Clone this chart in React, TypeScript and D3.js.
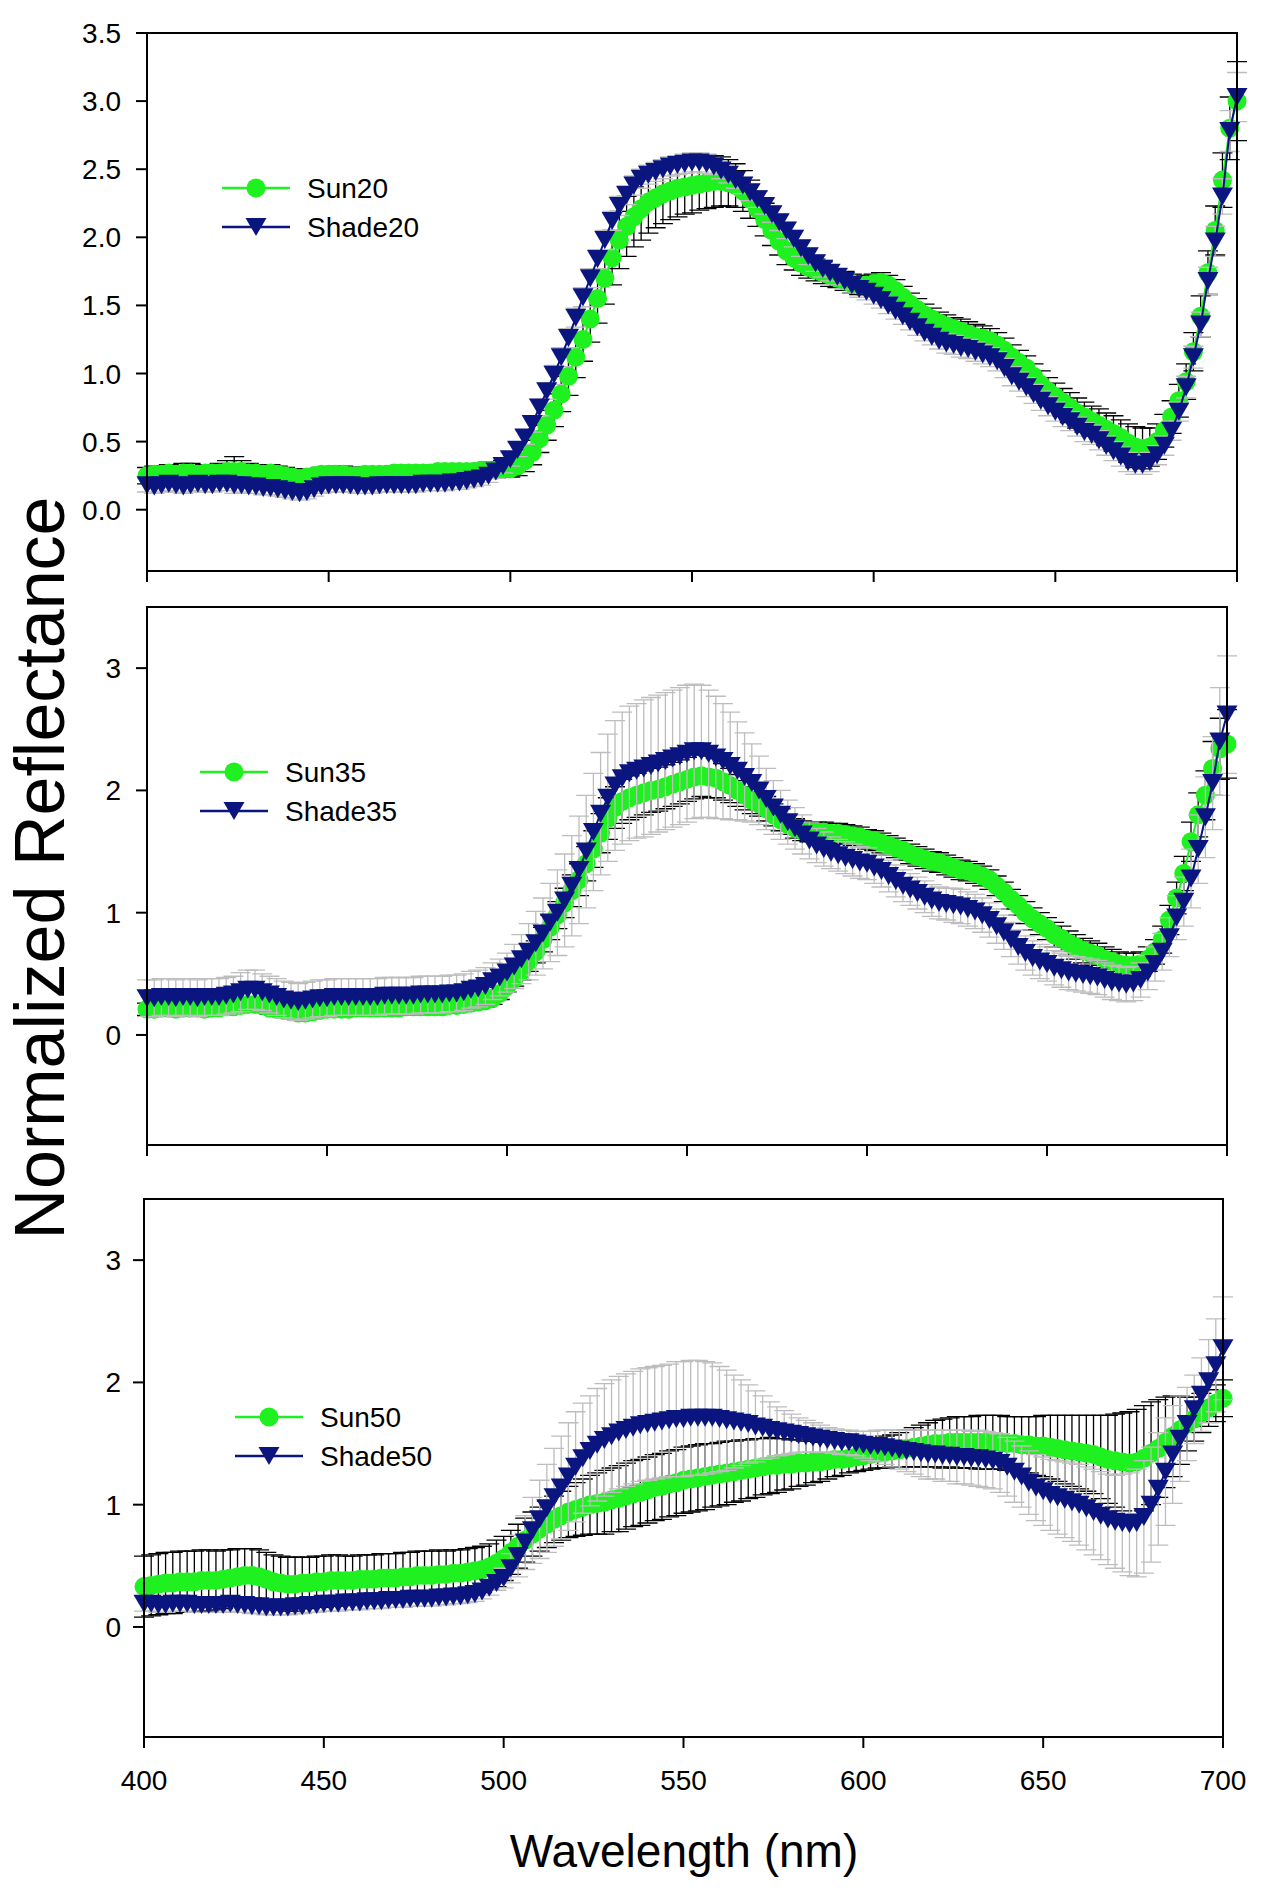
import { useEffect, useRef } from "react";
import * as d3 from "d3";

// sample grid of the spectra (nm)
const wavelengths = d3.range(400, 701, 2);

const xTicks = [400, 450, 500, 550, 600, 650, 700];
const yTicksTop = [0, 0.5, 1, 1.5, 2, 2.5, 3, 3.5];
const yTicksLower = [0, 1, 2, 3];

// normalized reflectance, in hundredths (400..700 nm, 2 nm step)
const sun20 = [
  25, 26, 26, 27, 26, 27, 27, 26, 27, 27,
  27, 28, 28, 28, 27, 27, 26, 27, 26, 25,
  24, 23, 24, 25, 26, 26, 26, 26, 25, 25,
  26, 26, 26, 26, 27, 27, 27, 27, 27, 27,
  28, 28, 28, 28, 28, 28, 29, 29, 29, 30,
  30, 32, 36, 42, 52, 62, 73, 85, 98, 112,
  125, 140, 155, 170, 185, 198, 208, 215, 221, 226,
  229, 232, 234, 236, 237, 238, 239, 240, 241, 241,
  240, 238, 234, 228, 221, 213, 205, 197, 190, 185,
  181, 178, 176, 174, 172, 170, 168, 166, 165, 165,
  166, 167, 165, 161, 156, 151, 147, 143, 140, 137,
  135, 133, 131, 129, 127, 126, 124, 121, 117, 112,
  108, 104, 98, 92, 87, 83, 79, 75, 71, 68,
  65, 62, 59, 56, 53, 49, 46, 45, 46, 50,
  58, 68, 80, 94, 116, 142, 174, 205, 242, 280,
  300,
];
const sun20Sd = [
  6, 6, 6, 6, 6, 7, 7, 6, 6, 6,
  7, 8, 11, 8, 7, 6, 6, 6, 6, 6,
  6, 6, 6, 5, 5, 5, 6, 6, 6, 6,
  5, 5, 5, 5, 5, 5, 5, 5, 5, 5,
  5, 5, 5, 5, 5, 5, 5, 6, 6, 6,
  6, 7, 8, 9, 10, 11, 12, 13, 14, 15,
  16, 17, 18, 19, 20, 21, 22, 22, 23, 23,
  22, 22, 21, 21, 20, 20, 19, 19, 19, 18,
  17, 16, 15, 14, 13, 12, 11, 10, 10, 9,
  9, 8, 8, 8, 8, 7, 7, 7, 7, 7,
  7, 7, 7, 8, 8, 8, 8, 8, 8, 8,
  8, 8, 9, 9, 9, 9, 9, 9, 9, 9,
  9, 9, 9, 10, 10, 10, 10, 11, 11, 11,
  11, 12, 12, 13, 13, 14, 15, 15, 14, 13,
  12, 12, 12, 13, 14, 15, 16, 18, 20, 23,
  29,
];
const shade20 = [
  18, 17, 18, 19, 18, 17, 18, 19, 18, 18,
  19, 19, 18, 18, 17, 17, 16, 16, 15, 14,
  13, 12, 13, 15, 17, 18, 18, 18, 18, 17,
  17, 17, 18, 18, 18, 18, 18, 18, 19, 19,
  19, 19, 20, 20, 21, 22, 23, 25, 28, 32,
  37, 44, 53, 63, 75, 87, 99, 112, 126, 141,
  156, 170, 184, 198, 212, 223, 231, 238, 243, 246,
  248, 250, 252, 253, 254, 255, 255, 254, 252, 249,
  246, 242, 238, 233, 228, 223, 217, 211, 205, 199,
  192, 186, 181, 177, 174, 171, 168, 165, 162, 160,
  157, 154, 150, 146, 142, 138, 134, 130, 127, 124,
  122, 121, 119, 118, 116, 114, 112, 109, 104, 98,
  94, 90, 85, 80, 76, 72, 68, 65, 61, 57,
  55, 51, 47, 43, 39, 35, 33, 33, 35, 40,
  47, 58, 72, 90, 112, 136, 168, 197, 230, 278,
  303,
];
const shade20Sd = [
  5, 5, 5, 5, 5, 5, 5, 5, 5, 5,
  5, 5, 6, 5, 5, 5, 5, 5, 5, 5,
  5, 5, 5, 5, 5, 5, 5, 5, 5, 5,
  5, 5, 5, 5, 5, 5, 5, 5, 5, 5,
  5, 5, 5, 5, 5, 5, 5, 5, 5, 5,
  5, 5, 5, 6, 6, 6, 7, 7, 7, 7,
  7, 7, 7, 7, 7, 7, 7, 7, 7, 7,
  7, 7, 7, 7, 7, 7, 7, 7, 6, 6,
  6, 6, 6, 6, 6, 6, 6, 6, 6, 6,
  6, 6, 6, 6, 6, 6, 6, 6, 6, 6,
  6, 6, 6, 6, 6, 6, 6, 6, 6, 6,
  7, 7, 7, 7, 7, 7, 7, 7, 7, 7,
  7, 7, 7, 7, 7, 7, 7, 7, 7, 7,
  7, 7, 7, 7, 7, 7, 7, 7, 7, 7,
  7, 7, 7, 8, 8, 9, 10, 11, 13, 15,
  18,
];

const sun35 = [
  21, 21, 22, 22, 21, 22, 22, 22, 21, 22,
  22, 23, 23, 24, 25, 25, 24, 22, 21, 20,
  19, 18, 18, 19, 20, 21, 21, 21, 21, 22,
  22, 22, 22, 22, 22, 22, 23, 23, 23, 23,
  23, 23, 24, 24, 25, 26, 27, 28, 30, 34,
  40, 46, 52, 60, 68, 78, 88, 98, 108, 118,
  127, 140, 152, 165, 177, 186, 191, 194, 196, 198,
  200, 201, 203, 205, 207, 209, 211, 212, 211, 210,
  207, 204, 200, 196, 192, 189, 185, 180, 176, 172,
  169, 167, 166, 166, 166, 165, 165, 164, 163, 162,
  160, 159, 157, 155, 153, 151, 148, 146, 144, 142,
  141, 139, 137, 135, 134, 132, 130, 127, 122, 117,
  111, 106, 100, 95, 91, 87, 82, 79, 75, 72,
  69, 67, 65, 62, 60, 58, 57, 57, 58, 62,
  68, 78, 94, 112, 132, 158, 180, 196, 218, 234,
  238,
];
const sun35Sd = [
  5, 5, 5, 5, 5, 5, 5, 5, 5, 5,
  5, 5, 5, 5, 5, 5, 5, 5, 5, 5,
  5, 5, 5, 5, 5, 5, 5, 5, 5, 5,
  5, 5, 5, 5, 5, 5, 5, 5, 5, 5,
  5, 5, 5, 5, 5, 5, 5, 5, 5, 5,
  5, 6, 7, 8, 9, 10, 10, 11, 12, 13,
  13, 14, 15, 16, 17, 17, 18, 18, 18, 18,
  18, 18, 18, 18, 18, 18, 18, 17, 17, 16,
  15, 14, 13, 12, 11, 10, 10, 9, 9, 8,
  8, 8, 8, 8, 8, 8, 8, 8, 8, 8,
  8, 8, 8, 8, 8, 8, 8, 8, 8, 8,
  8, 8, 8, 8, 8, 8, 8, 8, 8, 8,
  8, 8, 9, 9, 9, 9, 10, 10, 10, 10,
  10, 10, 10, 10, 10, 10, 10, 10, 10, 10,
  10, 11, 12, 13, 14, 16, 18, 20, 22, 25,
  28,
];
const shade35 = [
  30, 30, 31, 31, 30, 31, 31, 30, 31, 31,
  31, 32, 33, 35, 37, 37, 35, 33, 31, 29,
  28, 27, 28, 29, 30, 30, 31, 31, 31, 31,
  31, 31, 31, 32, 32, 32, 32, 32, 33, 33,
  33, 33, 34, 34, 35, 37, 38, 40, 44, 47,
  51, 56, 62, 68, 75, 83, 92, 100, 110, 122,
  135, 150, 166, 181, 194, 204, 210, 214, 216, 218,
  220, 222, 224, 226, 228, 230, 232, 232, 230, 227,
  224, 220, 216, 211, 206, 200, 193, 186, 180, 174,
  169, 164, 159, 155, 152, 149, 147, 145, 143, 141,
  140, 137, 134, 130, 126, 122, 119, 116, 113, 110,
  108, 107, 106, 105, 103, 101, 98, 94, 89, 84,
  78, 72, 67, 63, 60, 58, 55, 53, 51, 50,
  49, 48, 47, 45, 43, 42, 41, 42, 45, 51,
  58, 68, 80, 96, 109, 128, 152, 178, 206, 240,
  262,
];
const shade35Sd = [
  15, 15, 15, 15, 15, 15, 15, 15, 15, 15,
  15, 15, 15, 16, 16, 16, 15, 15, 15, 15,
  15, 15, 15, 15, 15, 15, 15, 15, 15, 15,
  15, 15, 15, 15, 15, 15, 15, 15, 15, 15,
  15, 15, 15, 15, 15, 15, 15, 15, 15, 15,
  16, 18, 20, 23, 26, 29, 32, 35, 38, 41,
  44, 46, 48, 50, 52, 53, 54, 55, 55, 56,
  56, 56, 56, 56, 56, 56, 55, 54, 52, 50,
  47, 44, 40, 36, 32, 28, 25, 22, 20, 18,
  17, 16, 15, 14, 14, 13, 13, 13, 13, 13,
  13, 13, 13, 13, 13, 13, 13, 13, 13, 13,
  13, 13, 14, 14, 14, 14, 14, 14, 14, 14,
  14, 14, 14, 14, 14, 14, 14, 14, 14, 14,
  14, 14, 14, 14, 14, 14, 14, 14, 14, 14,
  14, 15, 16, 18, 20, 24, 28, 33, 38, 44,
  48,
];

const sun50 = [
  33, 34, 35, 36, 36, 37, 37, 37, 38, 38,
  38, 39, 40, 41, 42, 42, 41, 39, 37, 36,
  35, 35, 36, 36, 37, 37, 38, 38, 38, 38,
  39, 39, 39, 40, 40, 40, 41, 41, 42, 42,
  42, 43, 43, 44, 44, 45, 46, 47, 49, 52,
  56, 61, 66, 71, 76, 80, 84, 88, 91, 94,
  96, 98, 100, 101, 102, 104, 105, 107, 109, 110,
  112, 114, 115, 117, 118, 120, 121, 122, 123, 124,
  125, 126, 127, 128, 129, 130, 131, 132, 132, 133,
  133, 134, 134, 135, 135, 136, 137, 137, 138, 139,
  140, 141, 142, 143, 144, 145, 146, 147, 148, 149,
  150, 150, 151, 151, 151, 151, 151, 151, 151, 151,
  150, 150, 149, 149, 148, 148, 147, 146, 145, 144,
  143, 142, 141, 139, 137, 136, 135, 134, 135, 138,
  142, 146, 151, 156, 161, 166, 170, 175, 179, 183,
  187,
];
const sun50Sd = [
  25, 25, 25, 25, 25, 25, 25, 25, 25, 25,
  24, 24, 23, 23, 22, 22, 22, 22, 22, 22,
  22, 22, 21, 21, 21, 21, 21, 21, 20, 20,
  20, 20, 20, 20, 20, 20, 20, 20, 20, 20,
  20, 20, 19, 19, 19, 19, 19, 19, 19, 19,
  18, 18, 18, 18, 18, 18, 19, 19, 20, 21,
  22, 23, 24, 25, 26, 26, 27, 27, 27, 27,
  27, 27, 27, 27, 27, 27, 27, 27, 27, 26,
  26, 26, 25, 25, 24, 24, 23, 23, 22, 21,
  20, 19, 18, 17, 16, 15, 14, 13, 12, 12,
  12, 12, 12, 13, 13, 14, 15, 16, 17, 18,
  19, 20, 20, 21, 21, 21, 22, 22, 22, 22,
  22, 22, 23, 23, 24, 25, 26, 27, 28, 29,
  30, 31, 32, 34, 36, 38, 40, 42, 43, 43,
  42, 40, 37, 33, 28, 22, 18, 16, 15, 15,
  15,
];
const shade50 = [
  19, 19, 18, 18, 19, 19, 19, 18, 18, 18,
  18, 18, 19, 18, 18, 17, 17, 16, 16, 16,
  16, 17, 17, 18, 18, 19, 19, 19, 20, 20,
  20, 21, 21, 21, 22, 22, 22, 23, 23, 23,
  23, 24, 24, 25, 25, 26, 27, 29, 32, 36,
  40, 48, 58, 69, 79, 88, 97, 106, 114, 123,
  131, 138, 144, 149, 153, 156, 159, 161, 163, 165,
  166, 167, 168, 169, 170, 170, 171, 171, 171, 171,
  170, 169, 168, 167, 166, 164, 163, 161, 160, 159,
  158, 157, 156, 155, 154, 153, 152, 151, 151, 150,
  149, 148, 148, 147, 146, 145, 144, 143, 142, 141,
  141, 140, 140, 139, 139, 138, 138, 137, 136, 134,
  131, 127, 123, 118, 114, 111, 108, 106, 104, 102,
  100, 97, 94, 91, 88, 86, 85, 84, 85, 90,
  100, 113, 127, 141, 154, 166, 178, 190, 201, 214,
  228,
];
const shade50Sd = [
  6, 6, 6, 6, 6, 6, 6, 6, 6, 6,
  6, 6, 6, 6, 6, 6, 6, 6, 6, 6,
  6, 6, 6, 6, 6, 6, 6, 6, 6, 6,
  6, 6, 6, 6, 6, 6, 6, 6, 6, 6,
  6, 6, 6, 6, 6, 6, 6, 6, 6, 6,
  8, 12, 17, 22, 27, 32, 36, 40, 42, 44,
  45, 45, 45, 46, 46, 46, 46, 46, 46, 46,
  46, 46, 46, 46, 47, 47, 47, 47, 46, 45,
  43, 41, 38, 35, 32, 29, 26, 23, 20, 18,
  16, 14, 13, 12, 11, 10, 10, 10, 10, 10,
  11, 12, 13, 14, 15, 16, 17, 18, 19, 20,
  20, 21, 21, 22, 22, 22, 23, 23, 23, 24,
  24, 25, 25, 26, 27, 28, 29, 30, 31, 32,
  33, 34, 35, 36, 37, 38, 40, 42, 44, 46,
  47, 46, 44, 40, 35, 30, 28, 30, 34, 38,
  42,
];

const GREEN = "#1ff01f";
const NAVY = "#0a1580";
const BAR_SUN = "#000000";
const BAR_SHADE = "#bdbdbd";
const FONT = "'Liberation Sans', Arial, sans-serif";

const panels = [
  {
    sun: sun20, sunSd: sun20Sd, shade: shade20, shadeSd: shade20Sd,
    names: ["Sun20", "Shade20"],
    yDomain: [-0.45, 3.5], yTicks: yTicksTop, fmt: d3.format(".1f"),
    box: { left: 147, right: 1237, top: 33, bottom: 571 },
    legend: { x: 222, y: 188 },
  },
  {
    sun: sun35, sunSd: sun35Sd, shade: shade35, shadeSd: shade35Sd,
    names: ["Sun35", "Shade35"],
    yDomain: [-0.9, 3.5], yTicks: yTicksLower, fmt: d3.format("d"),
    box: { left: 147, right: 1227, top: 607, bottom: 1145 },
    legend: { x: 200, y: 772 },
  },
  {
    sun: sun50, sunSd: sun50Sd, shade: shade50, shadeSd: shade50Sd,
    names: ["Sun50", "Shade50"],
    yDomain: [-0.9, 3.5], yTicks: yTicksLower, fmt: d3.format("d"),
    box: { left: 144, right: 1223, top: 1199, bottom: 1737 },
    legend: { x: 235, y: 1417 },
  },
];

const triangle = (cx, cy, s = 10.5) =>
  `M${cx - s},${cy - 9}L${cx + s},${cy - 9}L${cx},${cy + 9}Z`;

const App = () => {
  const ref = useRef(null);

  useEffect(() => {
    const svg = d3.select(ref.current);
    svg.selectAll("*").remove();

    panels.forEach((p, pi) => {
      const x = d3.scaleLinear().domain([400, 700]).range([p.box.left, p.box.right]);
      const y = d3.scaleLinear().domain(p.yDomain).range([p.box.bottom, p.box.top]);
      const g = svg.append("g");

      const series = [
        { mean: p.sun, sd: p.sunSd, color: GREEN, bar: BAR_SUN, shape: "circle" },
        { mean: p.shade, sd: p.shadeSd, color: NAVY, bar: BAR_SHADE, shape: "triangle" },
      ];

      series.forEach((s) => {
        const pts = wavelengths.map((w, i) => ({ w, m: s.mean[i] / 100, e: s.sd[i] / 100 }));

        // error bars
        g.append("g")
          .attr("stroke", s.bar)
          .attr("fill", "none")
          .selectAll("path")
          .data(pts)
          .join("path")
          .attr("stroke-width", 1.3)
          .attr("d", (d) => {
            const cx = x(d.w);
            const hi = y(d.m + d.e);
            const lo = y(d.m - d.e);
            return `M${cx - 10},${hi}H${cx + 10}M${cx},${hi}V${lo}M${cx - 10},${lo}H${cx + 10}`;
          });

        // connecting line
        g.append("path")
          .datum(pts)
          .attr("fill", "none")
          .attr("stroke", s.color)
          .attr("stroke-width", 2)
          .attr("d", d3.line().x((d) => x(d.w)).y((d) => y(d.m)));

        // markers
        const mk = g.append("g").attr("fill", s.color);
        if (s.shape === "circle") {
          mk.selectAll("circle")
            .data(pts)
            .join("circle")
            .attr("cx", (d) => x(d.w))
            .attr("cy", (d) => y(d.m))
            .attr("r", 9.5);
        } else {
          mk.selectAll("path")
            .data(pts)
            .join("path")
            .attr("d", (d) => triangle(x(d.w), y(d.m)));
        }
      });

      // frame
      g.append("rect")
        .attr("x", p.box.left)
        .attr("y", p.box.top)
        .attr("width", p.box.right - p.box.left)
        .attr("height", p.box.bottom - p.box.top)
        .attr("fill", "none")
        .attr("stroke", "#000")
        .attr("stroke-width", 2);

      // y axis
      const yAxis = g.append("g").attr("font-family", FONT).attr("font-size", 28);
      p.yTicks.forEach((t) => {
        yAxis.append("line")
          .attr("x1", p.box.left - 11).attr("x2", p.box.left)
          .attr("y1", y(t)).attr("y2", y(t))
          .attr("stroke", "#000").attr("stroke-width", 2);
        yAxis.append("text")
          .attr("x", 121).attr("y", y(t)).attr("dy", "0.36em")
          .attr("text-anchor", "end")
          .text(p.fmt(t));
      });

      // x axis ticks (labels only on the bottom panel)
      const xAxis = g.append("g").attr("font-family", FONT).attr("font-size", 28);
      xTicks.forEach((t) => {
        xAxis.append("line")
          .attr("x1", x(t)).attr("x2", x(t))
          .attr("y1", p.box.bottom).attr("y2", p.box.bottom + 11)
          .attr("stroke", "#000").attr("stroke-width", 2);
        if (pi === panels.length - 1) {
          xAxis.append("text")
            .attr("x", x(t)).attr("y", 1790)
            .attr("text-anchor", "middle")
            .text(t);
        }
      });

      // legend
      const lg = g.append("g").attr("font-family", FONT).attr("font-size", 28);
      series.forEach((s, i) => {
        const ly = p.legend.y + i * 39;
        const lx = p.legend.x;
        lg.append("line")
          .attr("x1", lx).attr("x2", lx + 68)
          .attr("y1", ly).attr("y2", ly)
          .attr("stroke", s.color).attr("stroke-width", 2.5);
        if (s.shape === "circle") {
          lg.append("circle").attr("cx", lx + 34).attr("cy", ly).attr("r", 9.5).attr("fill", s.color);
        } else {
          lg.append("path").attr("d", triangle(lx + 34, ly)).attr("fill", s.color);
        }
        lg.append("text")
          .attr("x", lx + 85).attr("y", ly).attr("dy", "0.36em")
          .text(p.names[i]);
      });
    });

    // axis titles
    svg.append("text")
      .attr("x", 684).attr("y", 1867)
      .attr("text-anchor", "middle")
      .attr("font-family", FONT).attr("font-size", 46)
      .text("Wavelength (nm)");
    svg.append("text")
      .attr("transform", "translate(64, 868) rotate(-90)")
      .attr("text-anchor", "middle")
      .attr("font-family", FONT).attr("font-size", 70)
      .text("Normalized Reflectance");
  }, []);

  return (
    <svg
      ref={ref}
      width={1267}
      height={1894}
      style={{ position: "absolute", left: 0, top: 0, background: "#fff" }}
    />
  );
};

export default App;
